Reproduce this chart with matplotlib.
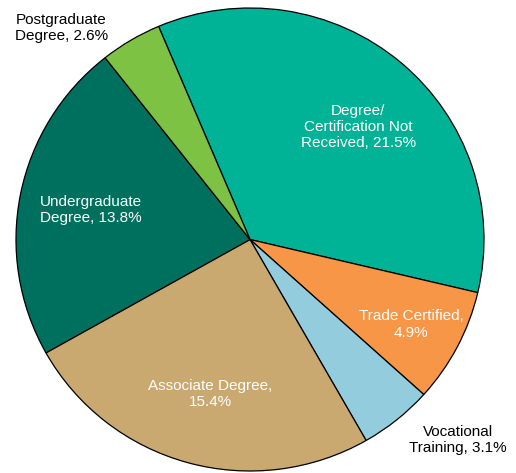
import matplotlib.pyplot as plt
import numpy as np

plt.rcParams['font.family'] = ['Liberation Sans', 'DejaVu Sans']

labels = ["Degree/\nCertification Not\nReceived, 21.5%",
          "Trade Certified,\n4.9%",
          "Vocational\nTraining, 3.1%",
          "Associate Degree,\n15.4%",
          "Undergraduate\nDegree, 13.8%",
          "Postgraduate\nDegree, 2.6%"]
values = [21.5, 4.9, 3.1, 15.4, 13.8, 2.6]
colors = ['#00B396', '#F79646', '#93CDDD', '#C9A96F', '#00705E', '#7DC242']
text_colors = ['white', 'white', 'black', 'white', 'white', 'black']
# label placement: radius fraction and angle nudge (deg)
label_r = [0.67, 0.78, 1.24, 0.69, 0.69, 1.22]
label_da = [-3.5, -0.4, 6.8, 1.1, 0.6, 10.8]

fig = plt.figure(figsize=(5.16, 4.73), dpi=100)
ax = fig.add_axes([16/516, 2/473, 468/516, 463/473])

wedges, _ = ax.pie(values, colors=colors, startangle=113, counterclock=False,
                   wedgeprops=dict(edgecolor='black', linewidth=0.9))
ax.set_aspect('auto')
ax.set_xlim(-1, 1)
ax.set_ylim(-1, 1)

for w, lab, r, da, tc in zip(wedges, labels, label_r, label_da, text_colors):
    mid = np.deg2rad((w.theta1 + w.theta2) / 2 + da)
    ax.text(r * np.cos(mid), r * np.sin(mid), lab, ha='center', va='center',
            color=tc, fontsize=11, linespacing=1.2, clip_on=False)

plt.savefig('out.png', dpi=100)
